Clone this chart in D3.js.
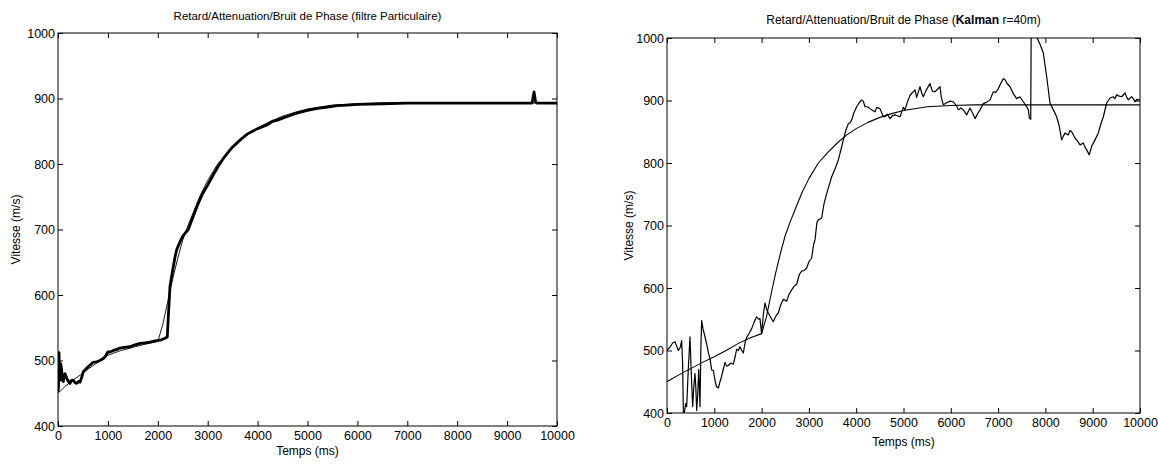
<!DOCTYPE html>
<html>
<head>
<meta charset="utf-8">
<script src="https://cdn.jsdelivr.net/npm/d3@7"></script>
<style>
  html, body { margin: 0; padding: 0; background: #fff; }
  svg text { font-family: "Liberation Sans", Arial, Helvetica, sans-serif; fill: #000; }
  .axis path { display: none; }
  .axis line { stroke: #000; stroke-width: 1; }
</style>
</head>
<body>
<svg id="fig" width="1158" height="465"></svg>
<script>
// ticks
const xTicks = [0, 1000, 2000, 3000, 4000, 5000, 6000, 7000, 8000, 9000, 10000];
const yTicks = [400, 500, 600, 700, 800, 900, 1000];

// vitesse vraie, graphe de gauche (courbe fine)
const tVraiG = [0, 150, 300, 450, 570, 700, 850, 1000, 1250, 1500, 1750, 2000, 2100, 2200, 2300, 2400, 2500, 2600, 2700, 2850, 3000, 3200, 3400, 3600, 3800, 4000, 4250, 4500, 4750, 5000, 5500, 6000, 6500, 7000, 8000, 9000, 10000];
const vVraiG = [450, 461, 470, 478, 485, 492, 500, 508, 515, 520, 525, 529, 555, 590, 625, 656, 684, 705, 724, 752, 775, 800, 817, 832, 845, 855, 865, 873, 879, 884, 890, 892, 893, 893, 893, 893, 893];

// vitesse vraie, graphe de droite (courbe fine)
const tVraiD = [0, 250, 500, 750, 1000, 1250, 1500, 1750, 2000, 2100, 2200, 2300, 2400, 2500, 2600, 2700, 2850, 3000, 3200, 3400, 3600, 3800, 4000, 4250, 4500, 4750, 5000, 5500, 6000, 6500, 7000, 8000, 9000, 10000];
const vVraiD = [450, 461, 471, 481, 490, 500, 511, 520, 527, 553, 590, 625, 656, 684, 705, 724, 752, 775, 800, 817, 832, 845, 855, 865, 873, 879, 884, 890, 892, 893, 893, 893, 893, 893];

// estimation filtre particulaire (trait epais, graphe de gauche)
const tPart = [0, 10, 20, 30, 40, 55, 74, 90, 107, 125, 140, 174, 210, 240, 275, 307, 340, 374, 410, 441, 474, 508, 560, 600, 641, 700, 775, 840, 908, 960, 1000, 1042, 1100, 1180, 1242, 1330, 1443, 1540, 1643, 1750, 1844, 1950, 2050, 2144, 2190, 2211, 2244, 2280, 2311, 2345, 2378, 2410, 2444, 2500, 2545, 2611, 2700, 2800, 2900, 3000, 3100, 3200, 3300, 3400, 3500, 3600, 3700, 3800, 3900, 4000, 4100, 4200, 4300, 4400, 4500, 4650, 4800, 5000, 5200, 5400, 5600, 5800, 6000, 6500, 7000, 7500, 8000, 8500, 9000, 9500, 9540, 9570, 9600, 10000];
const vPart = [452, 460, 512, 480, 470, 495, 485, 470, 468, 478, 480, 473, 468, 465, 470, 470, 466, 465, 468, 467, 474, 483, 487, 490, 493, 497, 498, 500, 503, 508, 513, 513, 515, 517, 519, 520, 521, 524, 526, 527, 528, 530, 531, 534, 536, 567, 613, 630, 643, 658, 669, 675, 681, 690, 694, 700, 718, 738, 755, 768, 782, 795, 807, 817, 826, 833, 840, 846, 850, 854, 857, 860, 865, 867, 870, 874, 878, 882, 885, 887, 889, 890, 891, 892, 893, 893, 893, 893, 893, 893, 910, 895, 893, 893];

// estimation Kalman r=40m (graphe de droite)
const tKal = [0, 60, 120, 169, 200, 240, 280, 310, 330, 346, 370, 395, 416, 450, 486, 510, 543, 565, 592, 610, 627, 650, 670, 685, 698, 715, 733, 760, 803, 840, 880, 909, 944, 980, 1020, 1050, 1085, 1120, 1156, 1190, 1226, 1260, 1297, 1350, 1402, 1440, 1473, 1510, 1543, 1580, 1614, 1649, 1684, 1740, 1790, 1840, 1895, 1935, 1966, 2001, 2040, 2072, 2110, 2142, 2200, 2247, 2300, 2353, 2400, 2459, 2530, 2580, 2636, 2690, 2741, 2800, 2847, 2900, 2953, 3000, 3058, 3100, 3129, 3170, 3199, 3270, 3320, 3376, 3430, 3482, 3550, 3622, 3680, 3728, 3780, 3834, 3869, 3905, 3950, 4010, 4060, 4116, 4150, 4186, 4240, 4292, 4350, 4398, 4432, 4503, 4573, 4609, 4660, 4715, 4770, 4820, 4855, 4926, 4996, 5032, 5080, 5137, 5180, 5243, 5278, 5320, 5349, 5385, 5419, 5470, 5520, 5560, 5610, 5666, 5720, 5772, 5800, 5842, 5900, 5983, 6054, 6124, 6159, 6210, 6265, 6335, 6406, 6460, 6512, 6560, 6617, 6688, 6750, 6829, 6899, 6950, 7005, 7060, 7111, 7150, 7181, 7252, 7322, 7392, 7463, 7533, 7604, 7640, 7660, 7690, 7700, 7780, 7830, 7886, 7956, 8027, 8097, 8168, 8238, 8290, 8344, 8380, 8415, 8485, 8520, 8556, 8626, 8680, 8732, 8802, 8840, 8873, 8928, 8978, 9049, 9119, 9170, 9225, 9295, 9366, 9436, 9470, 9507, 9560, 9613, 9683, 9720, 9754, 9824, 9860, 9894, 9940, 10000];
const vKal = [500, 505, 512, 514, 508, 500, 505, 516, 480, 400, 402, 415, 410, 470, 522, 470, 410, 440, 463, 440, 404, 430, 470, 440, 410, 500, 548, 535, 522, 510, 495, 487, 469, 468, 450, 442, 440, 450, 459, 470, 481, 475, 476, 480, 478, 490, 502, 500, 506, 500, 496, 512, 521, 528, 535, 545, 554, 550, 551, 527, 560, 576, 565, 560, 552, 546, 555, 560, 572, 582, 579, 590, 597, 603, 606, 622, 627, 628, 632, 642, 648, 670, 677, 705, 709, 712, 735, 751, 765, 778, 790, 805, 822, 837, 852, 863, 864, 869, 880, 890, 896, 901, 899, 890, 890, 887, 884, 882, 889, 887, 874, 874, 878, 871, 876, 877, 876, 874, 889, 885, 897, 908, 912, 917, 905, 915, 922, 912, 906, 915, 922, 927, 915, 914, 918, 922, 905, 893, 896, 899, 898, 891, 885, 888, 885, 877, 888, 880, 871, 878, 885, 895, 897, 901, 914, 913, 919, 928, 935, 933, 928, 922, 911, 903, 906, 898, 890, 885, 872, 870, 1030, 1015, 999, 990, 976, 938, 896, 885, 874, 860, 837, 843, 848, 845, 852, 850, 840, 835, 829, 832, 825, 821, 813, 827, 837, 848, 862, 874, 896, 904, 906, 903, 909, 907, 906, 912, 905, 901, 906, 903, 898, 902, 900];

const svg = d3.select('#fig');

function drawPanel(p) {
  const x = d3.scaleLinear().domain([0, 10000]).range([p.x0, p.x1]);
  const y = d3.scaleLinear().domain([400, 1000]).range([p.y0, p.y1]);
  const g = svg.append('g');

  g.append('defs').append('clipPath').attr('id', p.id)
    .append('rect').attr('x', p.x0).attr('y', p.y1)
    .attr('width', p.x1 - p.x0).attr('height', p.y0 - p.y1);

  // frame
  g.append('rect').attr('x', p.x0).attr('y', p.y1)
    .attr('width', p.x1 - p.x0).attr('height', p.y0 - p.y1)
    .style('fill', 'none').style('stroke', '#000').style('stroke-width', 1);

  // axes, ticks pointing inwards (matlab style)
  g.append('g').attr('class', 'axis').attr('transform', `translate(0,${p.y0})`)
    .call(d3.axisBottom(x).tickValues(xTicks).tickSize(-5).tickPadding(5).tickFormat(d3.format('d')))
    .selectAll('text').style('font-size', '12.5px');
  g.append('g').attr('class', 'axis').attr('transform', `translate(0,${p.y1})`)
    .call(d3.axisTop(x).tickValues(xTicks).tickSize(-5).tickFormat(''));
  g.append('g').attr('class', 'axis').attr('transform', `translate(${p.x0},0)`)
    .call(d3.axisLeft(y).tickValues(yTicks).tickSize(-5).tickPadding(3).tickFormat(d3.format('d')))
    .selectAll('text').style('font-size', '12.5px');
  g.append('g').attr('class', 'axis').attr('transform', `translate(${p.x1},0)`)
    .call(d3.axisRight(y).tickValues(yTicks).tickSize(-5).tickFormat(''));
  g.selectAll('.axis text').attr('font-family', null);

  const line = d3.line().x(d => x(d[0])).y(d => y(d[1]));
  const cg = g.append('g').attr('clip-path', `url(#${p.id})`);
  p.series.forEach(s => {
    cg.append('path').datum(d3.zip(s.t, s.v)).attr('d', line)
      .style('fill', 'none').style('stroke', '#000')
      .style('stroke-width', s.w).style('stroke-linejoin', 'round');
  });

  const title = g.append('text').attr('x', (p.x0 + p.x1) / 2).attr('y', p.titleY)
    .attr('text-anchor', 'middle').style('font-size', p.titleSize);
  p.title.forEach(part => title.append('tspan').style('font-weight', part.bold ? 'bold' : 'normal').text(part.txt));

  g.append('text').attr('x', (p.x0 + p.x1) / 2).attr('y', p.xlabY)
    .attr('text-anchor', 'middle').style('font-size', '12px').text('Temps (ms)');
  g.append('text').attr('transform', `translate(${p.ylabX},${(p.y0 + p.y1) / 2}) rotate(-90)`)
    .attr('text-anchor', 'middle').style('font-size', '12px').text('Vitesse (m/s)');
}

drawPanel({
  id: 'clipL', x0: 58, x1: 557, y0: 426, y1: 33,
  title: [{ txt: 'Retard/Attenuation/Bruit de Phase (filtre Particulaire)' }],
  titleY: 20, titleSize: '11.5px', xlabY: 455, ylabX: 20,
  series: [{ t: tVraiG, v: vVraiG, w: 0.9 }, { t: tPart, v: vPart, w: 2.8 }]
});

drawPanel({
  id: 'clipR', x0: 667, x1: 1140, y0: 413, y1: 38,
  title: [{ txt: 'Retard/Attenuation/Bruit de Phase (' }, { txt: 'Kalman', bold: true }, { txt: ' r=40m)' }],
  titleY: 24, titleSize: '12px', xlabY: 446, ylabX: 633,
  series: [{ t: tVraiD, v: vVraiD, w: 1.1 }, { t: tKal, v: vKal, w: 1.2 }]
});
</script>
</body>
</html>
